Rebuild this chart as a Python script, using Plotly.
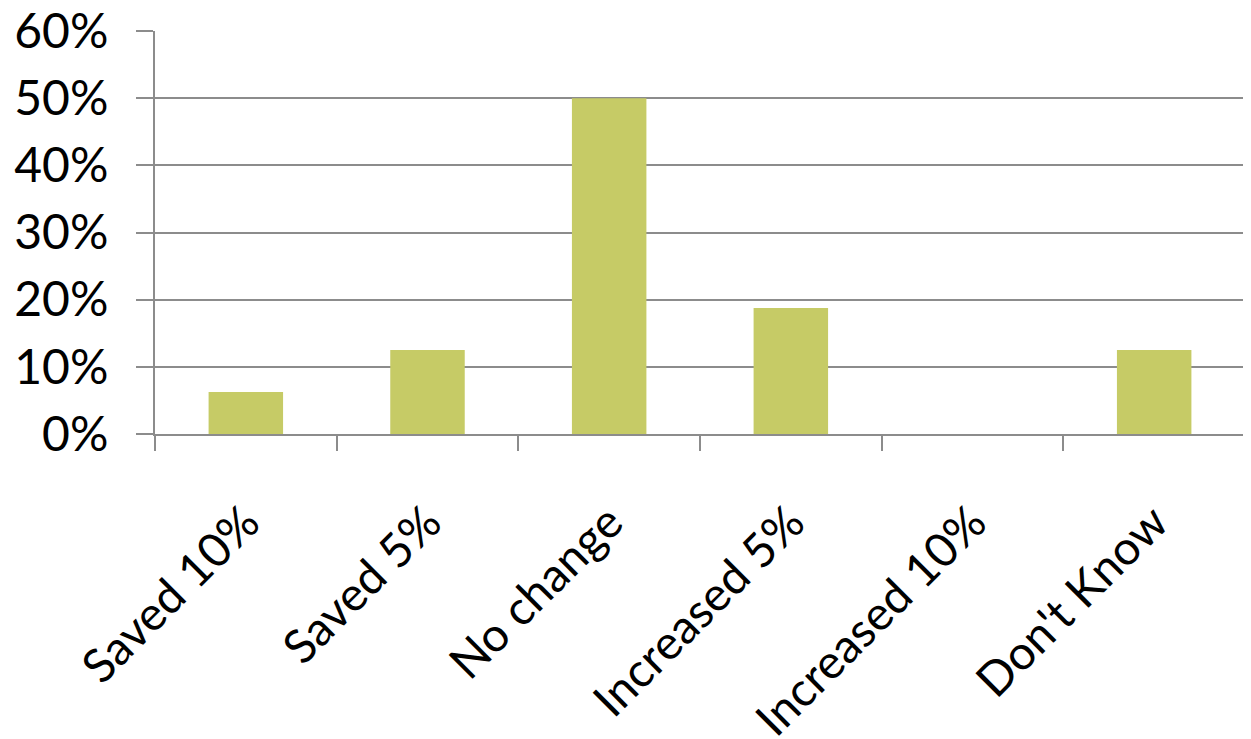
import plotly.graph_objects as go

categories = ["Saved 10%", "Saved 5%", "No change", "Increased 5%", "Increased 10%", "Don't Know"]
values = [0.0625, 0.125, 0.50, 0.1875, 0.0, 0.125]
y_ticks = [0, 0.1, 0.2, 0.3, 0.4, 0.5, 0.6]
y_tick_labels = ["0%", "10%", "20%", "30%", "40%", "50%", "60%"]

fig = go.Figure()
fig.add_trace(go.Bar(
    x=categories,
    y=values,
    marker=dict(color="#c6cb66", line=dict(color="#a6a866", width=0)),
    width=0.41,
))

font_family = "Lato, 'Open Sans', sans-serif"
fig.update_layout(
    width=1251, height=739,
    margin=dict(l=147, r=14, t=23, b=313),
    paper_bgcolor="white", plot_bgcolor="white",
    showlegend=False,
    font=dict(family=font_family, color="black"),
)
fig.update_xaxes(
    automargin=False,
    tickangle=-45,
    tickfont=dict(size=47, family=font_family, color="black"),
    ticks="outside", tickson="boundaries", ticklen=15, tickwidth=2, tickcolor="#8c8c8c",
    showline=True, linecolor="#8c8c8c", linewidth=2,
    showgrid=False,
    ticklabelstandoff=40,
    ticklabeloverflow="allow",
)
fig.update_yaxes(
    automargin=False,
    range=[0, 0.6],
    tickvals=y_ticks, ticktext=y_tick_labels,
    tickfont=dict(size=48, family=font_family, color="black"),
    ticks="outside", ticklen=17, tickwidth=2, tickcolor="#8c8c8c",
    showline=True, linecolor="#8c8c8c", linewidth=2,
    showgrid=True, gridcolor="#8c8c8c", gridwidth=2,
    zeroline=False,
    ticklabelstandoff=18,
    ticklabeloverflow="allow",
)
fig.write_html("out.html")
